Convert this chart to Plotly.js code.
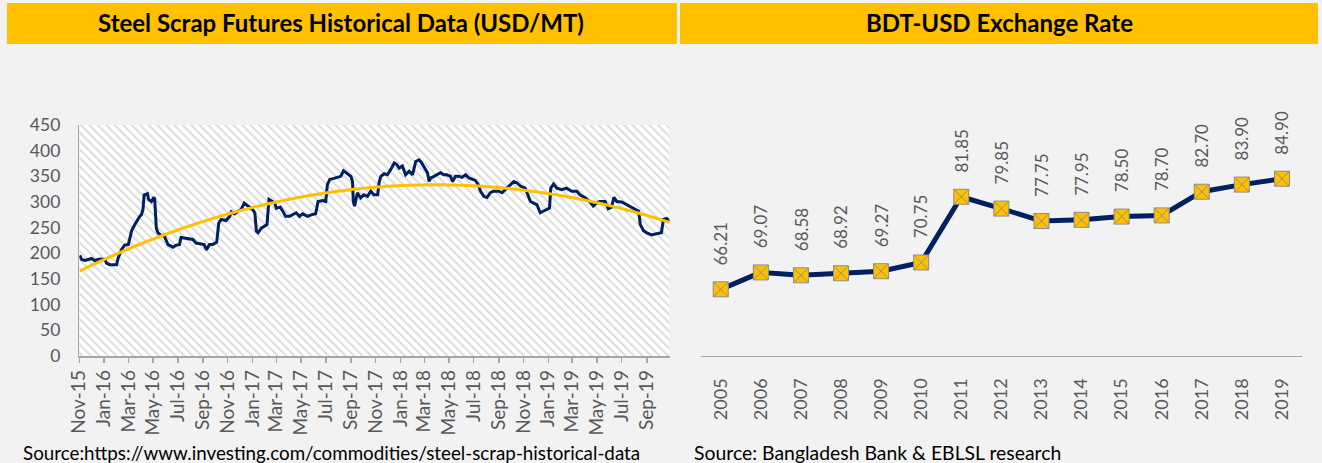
<!DOCTYPE html>
<html><head><meta charset="utf-8">
<script src="https://cdn.plot.ly/plotly-3.0.1.min.js"></script>
<style>html,body{margin:0;padding:0;background:#F2F2F2;} #chart{width:1322px;height:463px;}</style>
</head><body><div id="chart"></div>
<script>
// ---------- Data ----------
const leftTitle = 'Steel Scrap Futures Historical Data (USD/MT)';
const rightTitle = 'BDT-USD Exchange Rate';
const leftSource = 'Source:https://www.investing.com/commodities/steel-scrap-historical-data';
const rightSource = 'Source: Bangladesh Bank & EBLSL research';

const scrapDates = ['2015-11-02','2015-11-07','2015-11-15','2015-12-01','2015-12-09','2015-12-22','2016-01-03','2016-01-07','2016-01-15','2016-02-01','2016-02-05','2016-02-13','2016-02-21','2016-03-01','2016-03-05','2016-03-09','2016-03-17','2016-03-25','2016-03-29','2016-04-02','2016-04-06','2016-04-09','2016-04-17','2016-04-20','2016-04-27','2016-05-03','2016-05-05','2016-05-09','2016-05-13','2016-05-21','2016-05-29','2016-06-07','2016-06-19','2016-06-27','2016-07-05','2016-07-09','2016-07-17','2016-07-30','2016-08-07','2016-08-15','2016-08-27','2016-09-04','2016-09-10','2016-09-17','2016-09-25','2016-10-05','2016-10-10','2016-10-16','2016-10-28','2016-11-06','2016-11-10','2016-11-18','2016-11-26','2016-12-04','2016-12-12','2016-12-16','2016-12-25','2017-01-02','2017-01-07','2017-01-11','2017-01-15','2017-01-23','2017-01-31','2017-02-06','2017-02-11','2017-02-16','2017-02-25','2017-03-01','2017-03-11','2017-03-17','2017-03-24','2017-04-03','2017-04-11','2017-04-19','2017-04-27','2017-05-05','2017-05-17','2017-05-26','2017-06-06','2017-06-12','2017-06-23','2017-07-01','2017-07-05','2017-07-11','2017-07-21','2017-07-30','2017-08-07','2017-08-14','2017-08-24','2017-09-01','2017-09-05','2017-09-07','2017-09-10','2017-09-17','2017-09-25','2017-10-03','2017-10-12','2017-10-20','2017-10-28','2017-11-06','2017-11-10','2017-11-14','2017-11-22','2017-11-30','2017-12-08','2017-12-17','2017-12-23','2017-12-29','2018-01-06','2018-01-14','2018-01-23','2018-01-31','2018-02-08','2018-02-16','2018-02-21','2018-03-01','2018-03-09','2018-03-13','2018-03-17','2018-03-25','2018-04-02','2018-04-10','2018-04-18','2018-04-26','2018-05-05','2018-05-10','2018-05-17','2018-05-25','2018-06-02','2018-06-11','2018-06-19','2018-06-27','2018-07-05','2018-07-12','2018-07-18','2018-07-26','2018-08-03','2018-08-11','2018-08-19','2018-09-01','2018-09-09','2018-09-17','2018-09-29','2018-10-08','2018-10-16','2018-10-24','2018-11-05','2018-11-12','2018-11-18','2018-11-26','2018-12-04','2018-12-12','2018-12-21','2018-12-29','2019-01-04','2019-01-07','2019-01-14','2019-01-22','2019-02-03','2019-02-15','2019-02-28','2019-03-12','2019-03-20','2019-04-01','2019-04-13','2019-04-22','2019-04-30','2019-05-08','2019-05-21','2019-05-29','2019-06-06','2019-06-12','2019-06-19','2019-07-01','2019-07-13','2019-07-26','2019-08-03','2019-08-12','2019-08-16','2019-08-24','2019-09-01','2019-09-13','2019-09-25','2019-10-07','2019-10-12','2019-10-20','2019-10-27'];
const scrapPrices = [196,188,186,190,186,189,188,181,178,178,191,207,216,217,230,244,256,267,272,275,285,314,316,305,301,309,306,249,240,235,233,217,212,216,217,231,230,229,227,220,218,217,207,217,217,222,259,266,264,272,281,277,282,285,298,295,290,285,279,243,240,249,253,256,305,303,298,288,290,282,272,272,275,279,272,277,272,275,277,301,303,301,334,344,346,348,350,361,355,350,340,301,292,318,308,314,311,321,314,314,340,350,355,353,363,376,373,366,370,353,360,353,379,382,378,366,357,340,347,350,353,357,353,353,350,340,350,350,348,353,347,344,342,334,321,311,309,318,321,321,318,324,334,340,337,331,327,311,301,298,295,279,282,285,288,327,335,327,324,327,321,321,314,309,301,292,298,301,301,287,290,309,301,300,295,290,287,282,256,244,240,236,238,240,266,268,262];

const fxYears = ['2005','2006','2007','2008','2009','2010','2011','2012','2013','2014','2015','2016','2017','2018','2019'];
const fxRates = [66.21,69.07,68.58,68.92,69.27,70.75,81.85,79.85,77.75,77.95,78.50,78.70,82.70,83.90,84.90];

// ---------- Styles ----------
const FONT = "Lato, 'Open Sans', sans-serif";
const NAVY = '#002060', GOLD = '#FFC000', AXIS = '#A6A6A6', TXT = '#595959';
const W = 1322, H = 463;
const px = v => v / W, py = v => (H - v) / H;

// ---------- Polynomial (order 2) trendline, computed from the series ----------
const DAY = 86400000;
const t0 = Date.parse(scrapDates[0]);
const tDays = scrapDates.map(d => (Date.parse(d) - t0) / DAY);
const daily = [];
for (let i = 0; i < tDays.length - 1; i++) {
  for (let d = tDays[i]; d < tDays[i + 1]; d++) {
    const f = (d - tDays[i]) / (tDays[i + 1] - tDays[i]);
    daily.push([d / 1000, scrapPrices[i] + f * (scrapPrices[i + 1] - scrapPrices[i])]);
  }
}
daily.push([tDays[tDays.length - 1] / 1000, scrapPrices[scrapPrices.length - 1]]);
const S = [0,0,0,0,0], T = [0,0,0];
daily.forEach(([x, y]) => {
  let p = 1;
  for (let k = 0; k < 5; k++) { S[k] += p; if (k < 3) T[k] += p * y; p *= x; }
});
function solve3(A, b) {
  const M = A.map((r, i) => r.concat([b[i]]));
  for (let c = 0; c < 3; c++) {
    let piv = c;
    for (let r = c + 1; r < 3; r++) if (Math.abs(M[r][c]) > Math.abs(M[piv][c])) piv = r;
    [M[c], M[piv]] = [M[piv], M[c]];
    for (let r = 0; r < 3; r++) if (r !== c) {
      const f = M[r][c] / M[c][c];
      for (let k = c; k < 4; k++) M[r][k] -= f * M[c][k];
    }
  }
  return M.map((r, i) => r[3] / r[i]);
}
const coef = solve3([[S[0],S[1],S[2]],[S[1],S[2],S[3]],[S[2],S[3],S[4]]], T);
const trendX = [], trendY = [];
const tEnd = tDays[tDays.length - 1];
for (let d = 0; d <= tEnd; d += 5) {
  const x = d / 1000;
  trendX.push(new Date(t0 + d * DAY).toISOString().slice(0, 10));
  trendY.push(coef[0] + coef[1] * x + coef[2] * x * x);
}

// ---------- Hatched plot background ----------
const hatch = "<svg xmlns='http://www.w3.org/2000/svg' width='590' height='231'><defs><pattern id='p' width='6' height='6' patternUnits='userSpaceOnUse' patternTransform='rotate(-45)'><rect width='6' height='6' fill='#FFFFFF'/><rect width='2' height='6' fill='#DCDCDC'/></pattern></defs><rect width='100%' height='100%' fill='url(#p)'/></svg>";

// ---------- Traces ----------
const traces = [
  { type: 'scatter', mode: 'lines', x: scrapDates, y: scrapPrices, xaxis: 'x', yaxis: 'y',
    line: { color: NAVY, width: 3 }, hoverinfo: 'x+y' },
  { type: 'scatter', mode: 'lines', x: trendX, y: trendY, xaxis: 'x', yaxis: 'y',
    line: { color: GOLD, width: 3, shape: 'spline' }, hoverinfo: 'skip' },
  { type: 'scatter', mode: 'lines+markers', x: fxYears, y: fxRates, xaxis: 'x2', yaxis: 'y2',
    line: { color: NAVY, width: 5 },
    marker: { symbol: 'square-x', size: 15, color: GOLD, line: { color: '#8C8C8C', width: 1 } } }
];

const annotations = [
  { text: '<b>' + leftTitle + '</b>', xref: 'paper', yref: 'paper', x: px(341), y: py(23), showarrow: false,
    xanchor: 'center', yanchor: 'middle', font: { family: FONT, size: 24, color: '#000000' } },
  { text: '<b>' + rightTitle + '</b>', xref: 'paper', yref: 'paper', x: px(999), y: py(23), showarrow: false,
    xanchor: 'center', yanchor: 'middle', font: { family: FONT, size: 24, color: '#000000' } },
  { text: leftSource, xref: 'paper', yref: 'paper', x: px(21), y: py(452), showarrow: false,
    xanchor: 'left', yanchor: 'middle', font: { family: FONT, size: 18.8, color: '#000000' } },
  { text: rightSource, xref: 'paper', yref: 'paper', x: px(692), y: py(452), showarrow: false,
    xanchor: 'left', yanchor: 'middle', font: { family: FONT, size: 19.4, color: '#000000' } }
];
fxRates.forEach((v, i) => {
  annotations.push({ text: v.toFixed(2), x: i, y: v, xref: 'x2', yref: 'y2',
    showarrow: false, textangle: -90, xanchor: 'center', yanchor: 'bottom', yshift: 22,
    font: { family: FONT, size: 17, color: TXT } });
});

const layout = {
  width: W, height: H,
  margin: { l: 0, r: 0, t: 0, b: 0 },
  paper_bgcolor: '#F2F2F2', plot_bgcolor: 'rgba(0,0,0,0)',
  showlegend: false,
  font: { family: FONT, color: TXT },
  shapes: [
    { type: 'rect', xref: 'paper', yref: 'paper', x0: px(7), x1: px(677), y0: py(44), y1: py(3),
      fillcolor: GOLD, line: { width: 0 }, layer: 'below' },
    { type: 'rect', xref: 'paper', yref: 'paper', x0: px(680), x1: px(1318), y0: py(44), y1: py(3),
      fillcolor: GOLD, line: { width: 0 }, layer: 'below' }
  ],
  images: [
    { source: 'data:image/svg+xml;charset=utf-8,' + encodeURIComponent(hatch),
      xref: 'x domain', yref: 'y domain', x: 0, y: 1, sizex: 1, sizey: 1,
      xanchor: 'left', yanchor: 'top', sizing: 'stretch', layer: 'below' }
  ],
  xaxis: {
    domain: [px(79.3), px(669.5)], type: 'date', range: ['2015-11-01', '2019-10-27'],
    tick0: '2015-11-01', dtick: 'M2', tickformat: '%b-%y', tickangle: -90,
    ticks: 'outside', ticklen: 5, tickwidth: 1.5, tickcolor: AXIS,
    showline: true, linecolor: AXIS, linewidth: 1.5, showgrid: false, zeroline: false,
    tickfont: { family: FONT, size: 19, color: TXT }, anchor: 'y'
  },
  yaxis: {
    domain: [1 - 356 / H, 1 - 125 / H], range: [0, 450], dtick: 50,
    showline: true, linecolor: AXIS, linewidth: 1.5, showgrid: false, zeroline: false,
    ticks: '', ticklabelstandoff: 14,
    tickfont: { family: FONT, size: 17.5, color: TXT }, anchor: 'x'
  },
  xaxis2: {
    domain: [px(700.7), px(1302)], type: 'category', range: [-0.5, 14.5],
    tickangle: -90, ticks: '', ticklabelstandoff: 14,
    showline: true, linecolor: AXIS, linewidth: 1.5, showgrid: false, zeroline: false,
    tickfont: { family: FONT, size: 18, color: TXT }, anchor: 'y2'
  },
  yaxis2: {
    domain: [1 - 355.7 / H, 1 - 148.5 / H], range: [55, 90], dtick: 5,
    showline: false, showgrid: false, zeroline: false, showticklabels: false, ticks: '', anchor: 'x2'
  },
  annotations: annotations
};

Plotly.newPlot('chart', traces, layout, { displayModeBar: false, staticPlot: true });
</script>
</body></html>
